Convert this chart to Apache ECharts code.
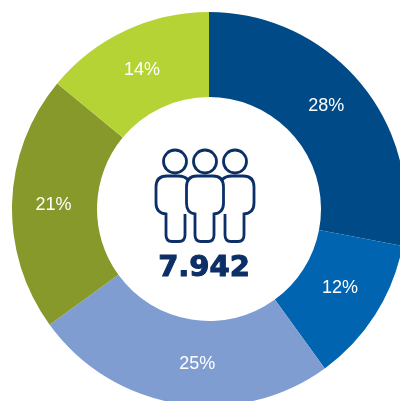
<!DOCTYPE html>
<html>
<head>
<meta charset="utf-8">
<script src="https://cdn.jsdelivr.net/npm/echarts@6/dist/echarts.min.js"></script>
<style>
  html, body { margin: 0; padding: 0; background: #fff; overflow: hidden; }
  #chart { width: 400px; height: 401px; }
</style>
</head>
<body>
<div id="chart"></div>
<script>
const shares = [28, 12, 25, 21, 14];
const colors = ['#004a87', '#0064b0', '#7f9dd1', '#86992a', '#b5d334'];
const labelOffsets = [[-4, -3], [-2, -5], [13, -1], [2, 1], [0, 4]];
const total = '7.942';
const navy = '#0b2f66';

const chart = echarts.init(document.getElementById('chart'));

// icon pieces, side people go first so the middle one covers them
const iconLine = { stroke: navy, lineWidth: 2.8, fill: 'none' };
const leftBody = 'M188 180Q185 176 178 176H167Q156 176 156 187V203Q156 213 166 214V235Q166 241.5 172 241.5H179Q185 241.5 185 235V214';
const rightBody = 'M222 180Q225 176 232 176H243Q254 176 254 187V203Q254 213 244 214V235Q244 241.5 238 241.5H231Q225 241.5 225 235V214';
const midBody = 'M197 176H213Q223.5 176 223.5 187V203Q223.5 213 214 214V235Q214 241.5 208 241.5H201Q195 241.5 195 235V214Q186.5 213 186.5 203V187Q186.5 176 197 176Z';

// graphic has no plain path type, so register the three outlines as shapes
echarts.graphic.registerShape('leftBody', echarts.graphic.extendPath(leftBody, {}));
echarts.graphic.registerShape('rightBody', echarts.graphic.extendPath(rightBody, {}));
echarts.graphic.registerShape('midBody', echarts.graphic.extendPath(midBody, {}));

chart.setOption({
  animation: false,
  series: [
    {
      type: 'pie',
      center: [209, 209],
      radius: [112, 197],
      startAngle: 90,
      clockwise: true,
      silent: true,
      label: {
        position: 'inside',
        formatter: '{c}%',
        color: '#fff',
        fontFamily: 'Liberation Sans',
        fontSize: 18
      },
      labelLine: { show: false },
      data: shares.map((v, i) => ({
        value: v,
        itemStyle: { color: colors[i] },
        label: { offset: labelOffsets[i] }
      }))
    }
  ],
  graphic: [
    { type: 'leftBody', shape: {}, style: iconLine },
    { type: 'rightBody', shape: {}, style: iconLine },
    { type: 'midBody', shape: {}, style: iconLine },
    { type: 'circle', shape: { cx: 175, cy: 161.5, r: 11.5 }, style: iconLine },
    { type: 'circle', shape: { cx: 205, cy: 161.5, r: 11.5 }, style: iconLine },
    { type: 'circle', shape: { cx: 235, cy: 161.5, r: 11.5 }, style: iconLine },
    {
      type: 'text',
      x: 204,
      y: 268,
      style: {
        text: total,
        fill: navy,
        stroke: navy,
        lineWidth: 1,
        font: '900 29px "DejaVu Sans"',
        align: 'center',
        verticalAlign: 'middle'
      }
    }
  ]
});
</script>
</body>
</html>
